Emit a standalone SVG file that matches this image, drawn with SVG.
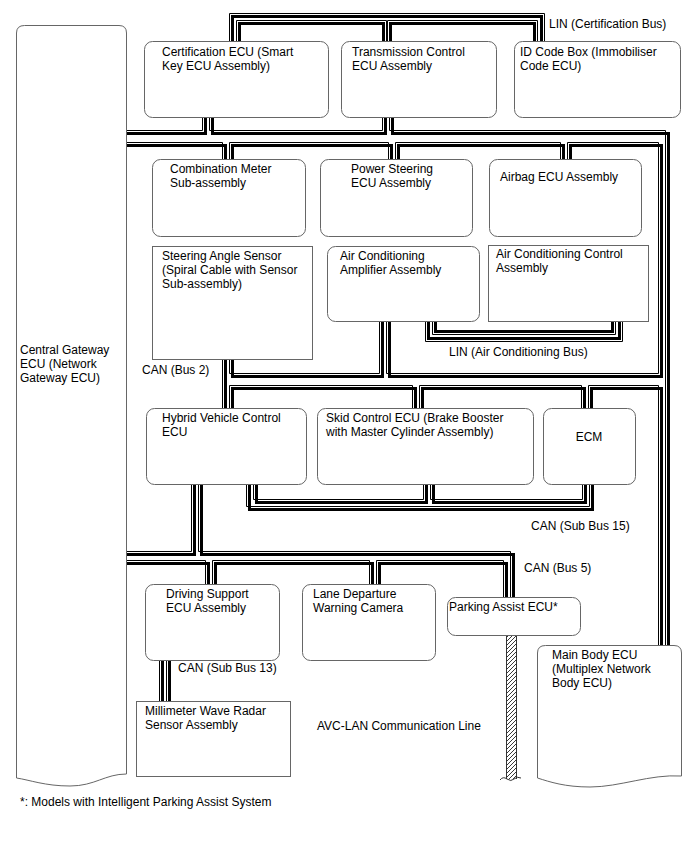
<svg xmlns="http://www.w3.org/2000/svg" xmlns:xlink="http://www.w3.org/1999/xlink" width="688" height="852" viewBox="0 0 688 852">
<defs>
<style>
.tk{fill:none;stroke:#000;stroke-width:3;stroke-linejoin:miter;stroke-linecap:butt}
.tn{fill:none;stroke:#000;stroke-width:1;stroke-linecap:butt}
.box{fill:#fff;stroke:#666;stroke-width:1}
.lbl{font-family:"Liberation Sans",Arial,sans-serif;font-size:12px;fill:#000}
</style>
<pattern id="hatch" width="4" height="4" patternUnits="userSpaceOnUse">
<path d="M0,4 L4,0 M-1,1 L1,-1 M3,5 L5,3" stroke="#222" stroke-width="0.9"/>
</pattern>
<path id="u1" d="M122,133.5 H205.5 V112"/>
<path id="u2" d="M212.5,112 V133.5 H385.5 V112"/>
<path id="u3" d="M392.5,112 V133.5 H668.5 V652"/>
<path id="d1" d="M122,145.5 H225.5 V166"/>
<path id="d2" d="M232.5,166 V145.5 H391.5 V166"/>
<path id="d3" d="M398.5,166 V145.5 H563.5 V166"/>
<path id="d4" d="M570.5,166 V145.5 H661.5 V376.5 H389.5 V316"/>
<path id="s2" d="M232.5,354 V376.5 H382.5 V316"/>
<path id="v1" d="M225.5,354 V414"/>
<path id="s3" d="M232.5,414 V388.5 H415.5 V414"/>
<path id="s4" d="M422.5,414 V388.5 H584.5 V414"/>
<path id="s5" d="M591.5,414 V388.5 H661.5 V652"/>
<path id="o15" d="M249.5,479 V509.5 H592.5 V479"/>
<path id="i15a" d="M256.5,479 V502.5 H426.5 V479"/>
<path id="i15b" d="M433.5,479 V502.5 H585.5 V479"/>
<path id="b1" d="M122,554.5 H194.5 V479"/>
<path id="b2" d="M201.5,479 V554.5 H513.5 V603"/>
<path id="b3" d="M122,563.5 H208.5 V589"/>
<path id="b4" d="M215.5,589 V563.5 H372.5 V589"/>
<path id="b5" d="M379.5,589 V563.5 H506.5 V603"/>
<path id="c13a" d="M162.5,655 V707"/>
<path id="c13b" d="M169.5,655 V707"/>
</defs>
<rect width="688" height="852" fill="#fff"/>

<g id="connectors">
<!-- LIN Certification Bus -->
<path class="tk" d="M232.5,46 V16.5 H541.5 V46"/>
<path class="tn" d="M229.5,46 V13.5 H544.5 V46"/>
<path class="tk" d="M239.5,46 V23.5 H383.5 V46"/>
<path class="tn" d="M236.5,46 V20.5 H386.5 V46"/>
<path class="tk" d="M390.5,46 V23.5 H534.5 V46"/>
<path class="tn" d="M387.5,46 V20.5 H537.5 V46"/>
<!-- LIN Air Conditioning Bus -->
<path class="tk" d="M428.5,316 V338.5 H619.5 V316"/>
<path class="tn" d="M425.5,316 V341.5 H622.5 V316"/>
<path class="tk" d="M435.5,316 V331.5 H612.5 V316"/>
<path class="tn" d="M432.5,316 V334.5 H615.5 V316"/>
<!-- CAN lines -->
<g class="tk">
<use xlink:href="#u1"/><use xlink:href="#u2"/><use xlink:href="#u3"/>
<use xlink:href="#d1"/><use xlink:href="#d2"/><use xlink:href="#d3"/><use xlink:href="#d4"/>
<use xlink:href="#s2"/><use xlink:href="#v1"/><use xlink:href="#s3"/><use xlink:href="#s4"/><use xlink:href="#s5"/>
<use xlink:href="#o15"/><use xlink:href="#i15a"/><use xlink:href="#i15b"/>
<use xlink:href="#b1"/><use xlink:href="#b2"/><use xlink:href="#b3"/><use xlink:href="#b4"/><use xlink:href="#b5"/>
<use xlink:href="#c13a"/><use xlink:href="#c13b"/>
</g>
<g class="tn" transform="translate(-3,-3)">
<use xlink:href="#u1"/><use xlink:href="#u2"/><use xlink:href="#u3"/>
<use xlink:href="#d1"/><use xlink:href="#d2"/><use xlink:href="#d3"/><use xlink:href="#d4"/>
<use xlink:href="#s2"/><use xlink:href="#v1"/><use xlink:href="#s3"/><use xlink:href="#s4"/><use xlink:href="#s5"/>
<use xlink:href="#o15"/><use xlink:href="#i15a"/><use xlink:href="#i15b"/>
<use xlink:href="#b1"/><use xlink:href="#b2"/><use xlink:href="#b3"/><use xlink:href="#b4"/><use xlink:href="#b5"/>
<use xlink:href="#c13a"/><use xlink:href="#c13b"/>
</g>
<!-- AVC-LAN -->
<rect x="506.5" y="636" width="10" height="143" fill="url(#hatch)" stroke="none"/>
<path d="M506.5,636 V779 M516.5,636 V779" stroke="#333" stroke-width="1" fill="none"/>
<path d="M500,780 Q503,776 507,779 T514,779 T521,778" stroke="#333" stroke-width="1" fill="none"/>
</g>

<g id="n-gateway">
<path class="box" d="M16.5,33 Q16.5,25.5 24.5,25.5 H119 Q126.5,25.5 126.5,33 V774 C105,774 95,786 70,786 C45,786 30,780 16.5,778 Z"/>
<text class="lbl" x="20" y="354">Central Gateway</text>
<text class="lbl" x="20" y="368">ECU (Network</text>
<text class="lbl" x="20" y="382">Gateway ECU)</text>
</g>
<g id="n-cert">
<rect class="box" x="144.5" y="41.5" width="184" height="76" rx="8"/>
<text class="lbl" x="162" y="56">Certification ECU (Smart</text>
<text class="lbl" x="162" y="70">Key ECU Assembly)</text>
</g>
<g id="n-trans">
<rect class="box" x="341.5" y="41.5" width="155" height="76" rx="8"/>
<text class="lbl" x="352" y="56">Transmission Control</text>
<text class="lbl" x="352" y="70">ECU Assembly</text>
</g>
<g id="n-idbox">
<rect class="box" x="514.5" y="41.5" width="166" height="76" rx="8"/>
<text class="lbl" x="520" y="56">ID Code Box (Immobiliser</text>
<text class="lbl" x="520" y="70">Code ECU)</text>
</g>
<text class="lbl" x="549" y="28">LIN (Certification Bus)</text>
<g id="n-comb">
<rect class="box" x="152.5" y="159.5" width="153" height="77" rx="8"/>
<text class="lbl" x="170" y="173">Combination Meter</text>
<text class="lbl" x="170" y="187">Sub-assembly</text>
</g>
<g id="n-ps">
<rect class="box" x="320.5" y="159.5" width="152" height="77" rx="8"/>
<text class="lbl" x="351" y="173">Power Steering</text>
<text class="lbl" x="351" y="187">ECU Assembly</text>
</g>
<g id="n-airbag">
<rect class="box" x="489.5" y="159.5" width="152" height="77" rx="8"/>
<text class="lbl" x="500" y="181">Airbag ECU Assembly</text>
</g>
<g id="n-steer">
<rect class="box" x="152.5" y="246.5" width="160" height="113"/>
<text class="lbl" x="162" y="260">Steering Angle Sensor</text>
<text class="lbl" x="162" y="274">(Spiral Cable with Sensor</text>
<text class="lbl" x="162" y="288">Sub-assembly)</text>
</g>
<g id="n-acamp">
<rect class="box" x="327.5" y="246.5" width="152" height="75" rx="8"/>
<text class="lbl" x="340" y="260">Air Conditioning</text>
<text class="lbl" x="340" y="274">Amplifier Assembly</text>
</g>
<g id="n-acctrl">
<rect class="box" x="488.5" y="245.5" width="160" height="76"/>
<text class="lbl" x="496" y="258">Air Conditioning Control</text>
<text class="lbl" x="496" y="272">Assembly</text>
</g>
<text class="lbl" x="449" y="356">LIN (Air Conditioning Bus)</text>
<text class="lbl" x="142" y="374">CAN (Bus 2)</text>
<g id="n-hybrid">
<rect class="box" x="146.5" y="408.5" width="160" height="76" rx="8"/>
<text class="lbl" x="162" y="422">Hybrid Vehicle Control</text>
<text class="lbl" x="162" y="436">ECU</text>
</g>
<g id="n-skid">
<rect class="box" x="317.5" y="408.5" width="216" height="76" rx="8"/>
<text class="lbl" x="326" y="422">Skid Control ECU (Brake Booster</text>
<text class="lbl" x="326" y="436">with Master Cylinder Assembly)</text>
</g>
<g id="n-ecm">
<rect class="box" x="543.5" y="408.5" width="92" height="76" rx="8"/>
<text class="lbl" x="589" y="441" text-anchor="middle">ECM</text>
</g>
<text class="lbl" x="531" y="530">CAN (Sub Bus 15)</text>
<text class="lbl" x="524" y="572">CAN (Bus 5)</text>
<g id="n-ds">
<rect class="box" x="145.5" y="584.5" width="134" height="76" rx="8"/>
<text class="lbl" x="166" y="598">Driving Support</text>
<text class="lbl" x="166" y="612">ECU Assembly</text>
</g>
<g id="n-lane">
<rect class="box" x="302.5" y="584.5" width="133" height="76" rx="8"/>
<text class="lbl" x="313" y="598">Lane Departure</text>
<text class="lbl" x="313" y="612">Warning Camera</text>
</g>
<g id="n-parking">
<rect class="box" x="447.5" y="597.5" width="133" height="38" rx="8"/>
<text class="lbl" x="449" y="611">Parking Assist ECU*</text>
</g>
<text class="lbl" x="178" y="672">CAN (Sub Bus 13)</text>
<g id="n-mainbody">
<path class="box" d="M537.5,653 Q537.5,645.5 545.5,645.5 H674 Q681.5,645.5 681.5,653 V776 C650,774 620,787 590,787 C565,787 550,782 537.5,778 Z"/>
<text class="lbl" x="552" y="659">Main Body ECU</text>
<text class="lbl" x="552" y="673">(Multiplex Network</text>
<text class="lbl" x="552" y="687">Body ECU)</text>
</g>
<g id="n-mmw">
<rect class="box" x="136.5" y="701.5" width="154" height="75"/>
<text class="lbl" x="145" y="715">Millimeter Wave Radar</text>
<text class="lbl" x="145" y="729">Sensor Assembly</text>
</g>
<text class="lbl" x="317" y="730">AVC-LAN Communication Line</text>
<text class="lbl" x="20" y="806">*: Models with Intelligent Parking Assist System</text>
</svg>
